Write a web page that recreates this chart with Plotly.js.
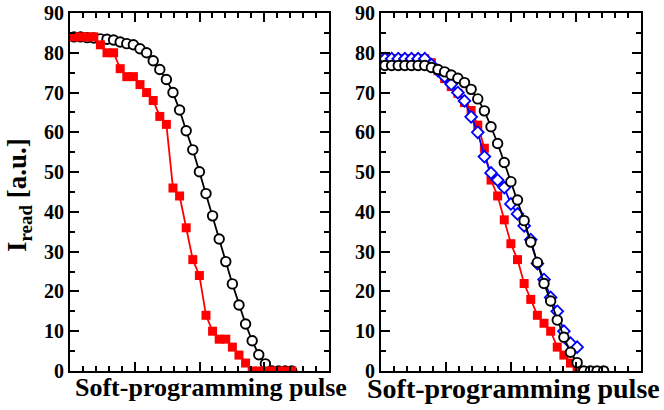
<!DOCTYPE html>
<html>
<head>
<meta charset="utf-8">
<script src="https://cdn.plot.ly/plotly-3.0.1.min.js"></script>
<style>html,body{margin:0;padding:0;background:#fff;}#chart{width:664px;height:410px;}</style>
</head>
<body>
<div id="chart"></div>
<script>
// pulse numbers
var pulses = [];
for (var i = 1; i <= 34; i++) pulses.push(i);

// Left panel
var leftBlack = [84,84,83.8,83.7,83.5,83.4,83.2,82.7,82.3,82.0,81.0,80.0,78.0,75.8,73.3,70.0,65.6,60.4,55.6,50.1,44.6,39.0,33.2,27.5,21.9,16.6,11.8,7.6,4.1,1.8,0,0,0,0];
var leftRed = [84,84,84,84,82,80,80,76,74,74,72,70,68,64,62,46,44,36,28,24,14,10,8,8,6,4,2,0,0,0,0,0,0,0];

// Right panel
var rightBlack = [76.8,76.8,76.8,76.8,76.8,76.8,76.8,76.3,75.8,75.2,74.4,73.6,72.5,70.8,68.4,65.4,61.4,57.2,52.4,47.6,43.0,37.8,32.4,27.3,22.0,17.6,12.8,8.5,4.7,2.1,0,0,0,0];
var rightRed = [78.5,78.5,78.5,78.5,78.5,78.5,78.5,77.5,75.5,73.5,71.5,69.8,67.5,65.5,61.8,56,48,44,38,32,28,22,18,14,12,10,6,4,2,0,0,0,0,0];
var rightBlue = [78.5,78.5,78.5,78.5,78.5,78.5,78.5,77,75.5,74,72.1,70.0,67.9,63.9,60.0,53.9,49.8,48.0,46.1,42.0,39.5,36.5,33,27,23,18.5,15,10,7,6];

var yTicks = [0,10,20,30,40,50,60,70,80,90];
var xTitle = "Soft-programming pulse";
var yTitle = "I<sub>read</sub> [a.u.]";

var FONT = "Liberation Serif, Times New Roman, serif";

function blackTrace(y, xa, ya) {
  return {x: pulses.slice(0, y.length), y: y, xaxis: xa, yaxis: ya, type: 'scatter', mode: 'lines+markers',
    line: {color: '#000', width: 1.8},
    marker: {symbol: 'circle', size: 9.5, color: '#fff', line: {color: '#000', width: 1.9}}, hoverinfo: 'skip'};
}
function redTrace(y, xa, ya) {
  return {x: pulses.slice(0, y.length), y: y, xaxis: xa, yaxis: ya, type: 'scatter', mode: 'lines+markers',
    line: {color: '#ff0000', width: 1.8},
    marker: {symbol: 'square', size: 9, color: '#ff0000', line: {width: 0}}, hoverinfo: 'skip'};
}
function blueTrace(y, xa, ya) {
  return {x: pulses.slice(0, y.length), y: y, xaxis: xa, yaxis: ya, type: 'scatter', mode: 'lines+markers',
    line: {color: '#0000ff', width: 1.8},
    marker: {symbol: 'diamond', size: 9, color: '#fff', line: {color: '#0000ff', width: 1.8}}, hoverinfo: 'skip'};
}

var data = [
  blackTrace(leftBlack, 'x', 'y'),
  redTrace(leftRed, 'x', 'y'),
  redTrace(rightRed, 'x2', 'y2'),
  blueTrace(rightBlue, 'x2', 'y2'),
  blackTrace(rightBlack, 'x2', 'y2')
];

var r0 = 0.394, r1 = 39.64, dt = (r1 - r0) / 4;
function xax(domain, anchor) {
  return {domain: domain, anchor: anchor, range: [r0, r1], tick0: r0, dtick: dt, showticklabels: false,
    ticks: 'inside', ticklen: 9, tickwidth: 2, tickcolor: '#000', mirror: 'allticks', showline: true,
    linewidth: 2, linecolor: '#000', showgrid: false, zeroline: false,
    minor: {dtick: dt / 5, tick0: r0, ticks: 'inside', ticklen: 5, tickwidth: 2, tickcolor: '#000', showgrid: false}};
}
function yax(anchor) {
  return {domain: [0, 1], anchor: anchor, range: [0, 90], tickvals: yTicks, ticktext: yTicks.map(String),
    ticks: 'inside', ticklen: 9, tickwidth: 2, tickcolor: '#000', mirror: 'allticks', showline: true,
    linewidth: 2, linecolor: '#000', showgrid: false, zeroline: false,
    tickfont: {family: FONT, size: 20, color: '#000', weight: 'bold'},
    minor: {dtick: 5, ticks: 'inside', ticklen: 5, tickwidth: 2, tickcolor: '#000', showgrid: false}};
}

var layout = {
  width: 664, height: 410,
  margin: {l: 70, r: 23, t: 13, b: 39, pad: 0},
  paper_bgcolor: '#fff', plot_bgcolor: '#fff',
  showlegend: false,
  xaxis: xax([0, 259/571], 'y'),
  yaxis: yax('x'),
  xaxis2: xax([311/571, 1], 'y2'),
  yaxis2: yax('x2'),
  annotations: [
    {text: xTitle, xref: 'paper', yref: 'paper', x: (211-70)/571, y: 0.0, xanchor: 'center', yanchor: 'top',
     showarrow: false, font: {family: FONT, size: 26, color: '#000', weight: 'bold'}},
    {text: xTitle, xref: 'paper', yref: 'paper', x: (513-70)/571, y: 0.0, xanchor: 'center', yanchor: 'top',
     showarrow: false, font: {family: FONT, size: 28, color: '#000', weight: 'bold'}},
    {text: yTitle, xref: 'paper', yref: 'paper', x: (19-70)/571, y: (371-195)/358, xanchor: 'center', yanchor: 'middle',
     textangle: -90, showarrow: false, font: {family: FONT, size: 27, color: '#000', weight: 'bold'}}
  ]
};

Plotly.newPlot('chart', data, layout, {staticPlot: true, displayModeBar: false});
</script>
</body>
</html>
